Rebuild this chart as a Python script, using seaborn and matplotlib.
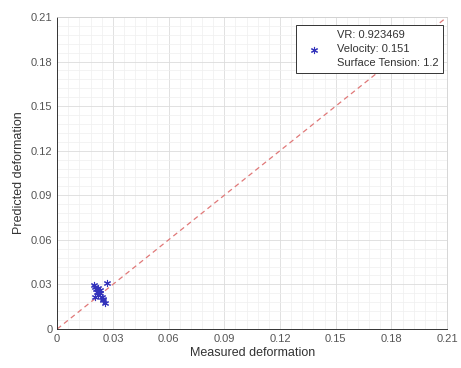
import matplotlib
matplotlib.use("Agg")
import matplotlib.pyplot as plt
import seaborn as sns
import numpy as np
import pandas as pd
from matplotlib.ticker import MultipleLocator, FixedLocator

measured = [0.0196, 0.0205, 0.0222, 0.0268, 0.0214, 0.0232, 0.0205, 0.0249, 0.0258, 0.0240, 0.0210, 0.0228, 0.0218, 0.0245]
predicted = [0.0296, 0.0285, 0.0274, 0.0307, 0.0251, 0.0240, 0.0217, 0.0195, 0.0173, 0.0217, 0.0268, 0.0260, 0.0232, 0.0205]
ticks = [0, 0.03, 0.06, 0.09, 0.12, 0.15, 0.18, 0.21]
tick_labels = ["0", "0.03", "0.06", "0.09", "0.12", "0.15", "0.18", "0.21"]
legend_label = "VR: 0.923469\nVelocity: 0.151\nSurface Tension: 1.2"

sns.set_style("white")
plt.rcParams['font.family'] = ['Liberation Sans', 'DejaVu Sans']

df = pd.DataFrame({"Measured deformation": measured, "Predicted deformation": predicted})

fig = plt.figure(figsize=(4.61, 3.68), dpi=100)
ax = fig.add_axes([0.124, 0.106, 0.846, 0.848])

ax.plot([ticks[0], ticks[-1]], [ticks[0], ticks[-1]], linestyle=(0, (4, 3)), color='#e07878', linewidth=0.9, zorder=2)
sns.scatterplot(data=df, x="Measured deformation", y="Predicted deformation", ax=ax,
                marker=(6, 2, 0), color='#3333bb', s=20, linewidth=0.8,
                label=legend_label, zorder=3, legend=True)

ax.set_xlim(0, 0.21)
ax.set_ylim(0, 0.21)
ax.xaxis.set_major_locator(FixedLocator(ticks))
ax.yaxis.set_major_locator(FixedLocator(ticks))
ax.set_xticklabels(tick_labels)
ax.set_yticklabels(tick_labels)
ax.xaxis.set_minor_locator(MultipleLocator(0.006))
ax.yaxis.set_minor_locator(MultipleLocator(0.006))
ax.grid(True, which='major', color='#dcdcdc', linewidth=0.6)
ax.grid(True, which='minor', color='#efefef', linewidth=0.5)
ax.set_axisbelow(True)
ax.tick_params(axis='both', which='major', labelsize=8, colors='#555555', length=3, direction='in')
ax.tick_params(axis='both', which='minor', length=0)
ax.set_xlabel("Measured deformation", fontsize=9, color='#333333', labelpad=2)
ax.set_ylabel("Predicted deformation", fontsize=9, color='#333333', labelpad=4)
for side in ['top', 'right']:
    ax.spines[side].set_color('#d0d0d0')
    ax.spines[side].set_linewidth(0.6)
for side in ['left', 'bottom']:
    ax.spines[side].set_color('#333333')
    ax.spines[side].set_linewidth(0.7)

leg = ax.legend(loc='upper right', bbox_to_anchor=(0.99, 0.974), fontsize=8, frameon=True, fancybox=False,
                edgecolor='#333333', framealpha=1, borderaxespad=0.0,
                handletextpad=0.8, handlelength=2.4, borderpad=0.45, markerscale=1.0)
leg.get_frame().set_linewidth(0.7)
for t in leg.get_texts():
    t.set_color('#333333')
    t.set_linespacing(1.5)

fig.savefig("out.png", dpi=100)
